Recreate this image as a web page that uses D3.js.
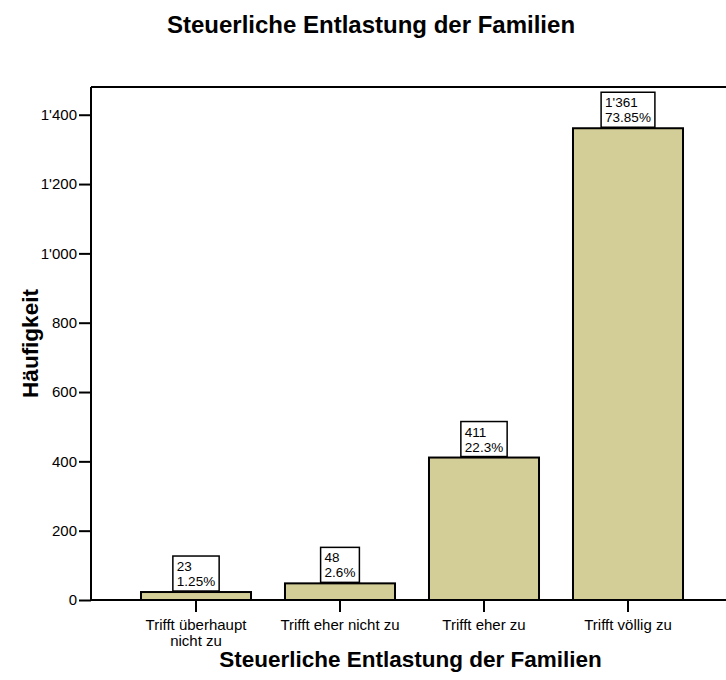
<!DOCTYPE html>
<html>
<head>
<meta charset="utf-8">
<script src="https://cdn.jsdelivr.net/npm/d3@7"></script>
<style>
  body { margin: 0; background: #fff; }
  text { font-family: "Liberation Sans", Arial, sans-serif; fill: #000; }
</style>
</head>
<body>
<svg id="chart" width="726" height="680"></svg>
<script>
const categories = ['Trifft überhaupt nicht zu', 'Trifft eher nicht zu', 'Trifft eher zu', 'Trifft völlig zu'];
const counts = [23, 48, 411, 1361];
const percents = ['1.25%', '2.6%', '22.3%', '73.85%'];
const yTicks = [0, 200, 400, 600, 800, 1000, 1200, 1400];

const title = 'Steuerliche Entlastung der Familien';
const xTitle = 'Steuerliche Entlastung der Familien';
const yTitle = 'Häufigkeit';

const locale = d3.formatLocale({ decimal: '.', thousands: "'", grouping: [3], currency: ['', ''] });
const fmt = locale.format(',d');

const svg = d3.select('#chart');

// plot area runs past the right edge of the picture
const plotLeft = 91, plotTop = 87, plotBottom = 600, plotRight = 730;

const x = d3.scaleBand()
    .domain(categories)
    .range([124, 700])
    .paddingInner(0.236)
    .paddingOuter(0.118);

const y = d3.scaleLinear()
    .domain([0, 1480])
    .range([plotBottom, plotTop]);

// frame top line
svg.append('line')
    .attr('x1', plotLeft).attr('x2', plotRight)
    .attr('y1', plotTop).attr('y2', plotTop)
    .attr('stroke', '#000').attr('stroke-width', 2);

// bars
svg.selectAll('rect.bar')
    .data(counts)
    .enter()
    .append('rect')
    .attr('class', 'bar')
    .attr('x', (d, i) => x(categories[i]))
    .attr('y', d => y(d))
    .attr('width', x.bandwidth())
    .attr('height', d => y(0) - y(d))
    .attr('fill', '#d3ce97')
    .attr('stroke', '#000')
    .attr('stroke-width', 2);

// y axis
const yAxis = svg.append('g')
    .attr('transform', `translate(${plotLeft},0)`)
    .call(d3.axisLeft(y).tickValues(yTicks).tickFormat(fmt).tickSize(12).tickPadding(2));
yAxis.select('.domain').attr('stroke-width', 2).attr('d', `M0,${plotBottom}V${plotTop}`);
yAxis.selectAll('.tick line').attr('stroke-width', 2);
yAxis.selectAll('.tick text')
    .style('font-family', '"Liberation Sans", Arial, sans-serif')
    .style('font-size', '15px');

// x axis
const xAxis = svg.append('g')
    .attr('transform', `translate(0,${plotBottom})`)
    .call(d3.axisBottom(x).tickSize(12).tickFormat(''));
xAxis.select('.domain').attr('stroke-width', 2).attr('d', `M${plotLeft},0H${plotRight}`);
xAxis.selectAll('.tick line').attr('stroke-width', 2);

// x tick labels (wrapped)
const wrap = ['Trifft überhaupt|nicht zu', 'Trifft eher nicht zu', 'Trifft eher zu', 'Trifft völlig zu'];
categories.forEach((c, i) => {
    const cx = x(c) + x.bandwidth() / 2;
    const t = svg.append('text')
        .attr('x', cx)
        .attr('y', plotBottom + 30)
        .attr('text-anchor', 'middle')
        .style('font-size', '15px');
    wrap[i].split('|').forEach((line, j) => {
        t.append('tspan')
            .attr('x', cx)
            .attr('dy', j === 0 ? 0 : 16)
            .text(line);
    });
});

// value label boxes
const labels = svg.selectAll('g.label')
    .data(counts)
    .enter()
    .append('g')
    .attr('class', 'label');

labels.each(function (d, i) {
    const g = d3.select(this);
    const cx = x(categories[i]) + x.bandwidth() / 2;
    const t1 = g.append('text').style('font-size', '13.5px').text(fmt(d));
    const t2 = g.append('text').style('font-size', '13.5px').text(percents[i]);
    const w = Math.max(t1.node().getComputedTextLength(), t2.node().getComputedTextLength()) + 8;
    const h = 35;
    let by = y(d) - h - 1;
    if (by < plotTop - 1) by = plotTop - 1;
    g.insert('rect', 'text')
        .attr('x', cx - w / 2)
        .attr('y', by)
        .attr('width', w)
        .attr('height', h)
        .attr('fill', '#fff')
        .attr('stroke', '#000')
        .attr('stroke-width', 1.5);
    t1.attr('x', cx - w / 2 + 4).attr('y', by + 15);
    t2.attr('x', cx - w / 2 + 4).attr('y', by + 30);
});

// titles
svg.append('text')
    .attr('x', 371).attr('y', 33)
    .attr('text-anchor', 'middle')
    .style('font-size', '24px').style('font-weight', 'bold')
    .text(title);

svg.append('text')
    .attr('x', (plotLeft + plotRight) / 2).attr('y', 667)
    .attr('text-anchor', 'middle')
    .style('font-size', '22.5px').style('font-weight', 'bold')
    .text(xTitle);

svg.append('text')
    .attr('transform', `translate(38,${(plotTop + plotBottom) / 2}) rotate(-90)`)
    .attr('text-anchor', 'middle')
    .style('font-size', '22.5px').style('font-weight', 'bold')
    .text(yTitle);
</script>
</body>
</html>
